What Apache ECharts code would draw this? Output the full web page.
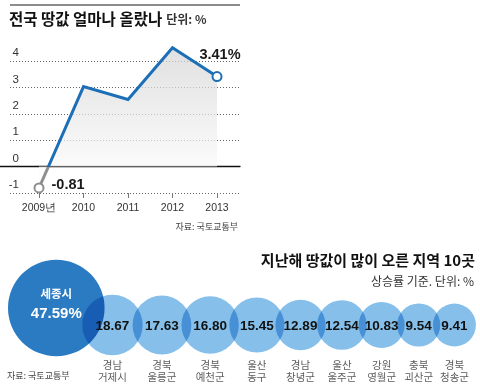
<!DOCTYPE html>
<html><head><meta charset="utf-8">
<script src="https://cdn.jsdelivr.net/npm/echarts@6/dist/echarts.min.js"></script>
<style>html,body{margin:0;padding:0;background:#fff}#c{width:480px;height:389px}</style>
</head><body><div id="c"></div>
<script>
// ---- data ----
const years = [2009, 2010, 2011, 2012, 2013];
const landChange = [-0.81, 3.03, 2.54, 4.50, 3.41];
const provinces = ['', '경남', '경북', '경북', '울산', '경남', '울산', '강원', '충북', '경북'];
const districts = ['세종시', '거제시', '울릉군', '예천군', '동구', '창녕군', '울주군', '영월군', '괴산군', '청송군'];
const rises = [47.59, 18.67, 17.63, 16.80, 15.45, 12.89, 12.54, 10.83, 9.54, 9.41];

const KR = '"Noto Sans CJK KR", "Noto Sans", sans-serif';
const NUM = '"Liberation Sans Narrow", "Liberation Sans", Arial, sans-serif';

// bubble layout: area proportional to value, neighbours overlap
const K = 7;
const radii = rises.map(v => K * Math.sqrt(v));
const xs = [];
radii.forEach((r, i) => {
  if (i === 0) xs.push(8 + r);
  else xs.push(xs[i - 1] + (radii[i - 1] + r) * (i === 1 ? 0.715 : 0.83));
});

const last = years.length - 1;
const lineData = years.map((y, i) => {
  const item = { value: [y, landChange[i]], symbol: 'none' };
  if (i === 0 || i === last) {
    item.symbol = 'emptyCircle';
    item.symbolSize = 9;
    item.label = {
      show: true,
      position: i === 0 ? 'right' : 'top',
      distance: i === 0 ? 7 : 9,
      offset: i === 0 ? [0, -3] : [3, 0],
      formatter: p => p.value[1].toFixed(2) + (i === last ? '%' : ''),
      fontFamily: NUM, fontWeight: 'bold', fontSize: 14.5, color: '#1a1a1a'
    };
  }
  return item;
});

const chart = echarts.init(document.getElementById('c'), null, { renderer: 'canvas' });
chart.setOption({
  animation: false,
  textStyle: { fontFamily: KR },
  title: [
    { left: 9, top: 10, padding: 0,
      text: '{a|전국 땅값 얼마나 올랐나} {b|단위: %}',
      textStyle: { rich: {
        a: { fontSize: 15.5, fontWeight: 'bold', color: '#111', fontFamily: KR },
        b: { fontSize: 12, color: '#333', fontFamily: KR }
      } } },
    { right: 242, top: 222, padding: 0, text: '자료: 국토교통부',
      textStyle: { fontSize: 9, fontWeight: 'normal', color: '#444', fontFamily: KR } },
    { right: 5, top: 253, padding: 0, text: '지난해 땅값이 많이 오른 지역 10곳',
      textStyle: { fontSize: 15, fontWeight: 'bold', color: '#111', fontFamily: KR } },
    { right: 6, top: 275, padding: 0, text: '상승률 기준. 단위: %',
      textStyle: { fontSize: 12, fontWeight: 'normal', color: '#333', fontFamily: KR } },
    { left: 7, top: 371, padding: 0, text: '자료: 국토교통부',
      textStyle: { fontSize: 9, fontWeight: 'normal', color: '#444', fontFamily: KR } }
  ],
  graphic: [
    { type: 'line', shape: { x1: 10, y1: 5, x2: 240, y2: 5 }, style: { stroke: '#8c8c8c', lineWidth: 2 }, silent: true }
  ],
  visualMap: {
    type: 'piecewise', show: false, seriesIndex: 0, dimension: 1,
    pieces: [{ min: -5, max: 0, color: '#8e8e8e' }, { gt: 0, max: 8, color: '#1c6fb6' }]
  },
  grid: [
    { left: 10, right: 241, top: 61, bottom: 196 },
    { left: 0, right: 240, top: 61, bottom: 196 },
    { left: 0, right: 0, top: 290, height: 70 }
  ],
  xAxis: [
    { gridIndex: 0, type: 'value', min: 2008.348, max: 2013.494,
      axisLine: { show: false, onZero: false }, splitLine: { show: false },
      axisTick: { show: true, customValues: years, length: 5, lineStyle: { color: '#777' } },
      axisLabel: { customValues: years, formatter: v => (v === years[0] ? v + '년' : '' + v),
        margin: 10, fontFamily: NUM, fontSize: 10.5, color: '#333' } },
    { gridIndex: 1, type: 'value', min: 0, max: 1,
      axisLine: { show: true, onZero: true, lineStyle: { color: '#111', width: 1.3 } },
      axisTick: { show: false }, axisLabel: { show: false }, splitLine: { show: false } },
    { gridIndex: 2, type: 'value', min: 0, max: 480, show: false }
  ],
  yAxis: [
    { gridIndex: 0, type: 'value', min: -1, max: 4, interval: 1,
      axisLine: { show: false }, axisTick: { show: false },
      splitLine: { show: true, lineStyle: { color: '#666', type: [1, 2], width: 1 } },
      axisLabel: { inside: true, align: 'right', margin: 9, verticalAlign: 'bottom', padding: [0, 0, 2, 0],
        fontFamily: NUM, fontSize: 11.5, color: '#333' } },
    { gridIndex: 1, type: 'value', min: -1, max: 4, show: false },
    { gridIndex: 2, type: 'category', data: ['r'], show: false }
  ],
  series: [
    { type: 'line', xAxisIndex: 0, yAxisIndex: 0, data: lineData, clip: false, z: 3,
      lineStyle: { width: 3, join: 'miter' },
      itemStyle: { borderWidth: 1.6 },
      areaStyle: { color: new echarts.graphic.LinearGradient(0, 0, 0, 1, [
        { offset: 0, color: '#d3d3d5' }, { offset: 1, color: '#ffffff' }]) } },
    { type: 'scatter', xAxisIndex: 2, yAxisIndex: 2, z: 2,
      data: [{ value: [xs[0], 0], symbolSize: radii[0] * 2 }],
      symbolOffset: [0, -17],
      itemStyle: { color: '#2b7bc3', opacity: 1 },
      label: { show: true, position: 'inside', offset: [0, -4],
        formatter: () => '{n|' + districts[0] + '}\n{v|' + rises[0].toFixed(2) + '%}',
        rich: {
          n: { fontFamily: KR, fontSize: 11.5, fontWeight: 'bold', color: '#fff', lineHeight: 20 },
          v: { fontFamily: NUM, fontSize: 15, fontWeight: 'bold', color: '#fff', lineHeight: 20 }
        } } },
    { type: 'scatter', xAxisIndex: 2, yAxisIndex: 2, z: 2, blendMode: 'multiply',
      data: rises.slice(1).map((v, i) => ({ value: [xs[i + 1], 0], symbolSize: radii[i + 1] * 2 })),
      itemStyle: { color: '#86c0ea', opacity: 1 },
      label: { show: true, position: 'inside', offset: [0, 1],
        formatter: p => rises[p.dataIndex + 1].toFixed(2),
        fontFamily: NUM, fontWeight: 'bold', fontSize: 13.5, color: '#111' } },
    { type: 'scatter', xAxisIndex: 2, yAxisIndex: 2, z: 2, silent: true,
      data: xs.slice(1).map(x => [x, 0]), symbolSize: 1,
      itemStyle: { color: 'rgba(0,0,0,0)' },
      label: { show: true, position: 'inside', offset: [0, 46],
        formatter: p => provinces[p.dataIndex + 1] + '\n' + districts[p.dataIndex + 1],
        fontFamily: KR, fontSize: 10.5, lineHeight: 12.5, color: '#333' } }
  ]
});
</script>
</body></html>
